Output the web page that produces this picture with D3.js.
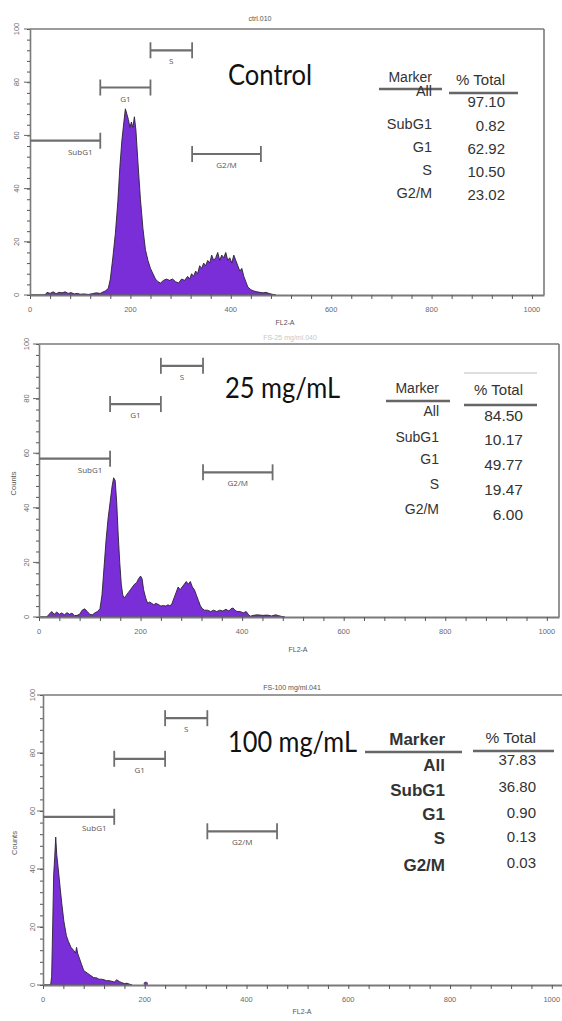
<!DOCTYPE html>
<html>
<head>
<meta charset="utf-8">
<script src="https://cdn.jsdelivr.net/npm/d3@7"></script>
<style>
  body { margin: 0; background: #fff; }
  svg { display: block; }
</style>
</head>
<body>
<svg id="chart" width="562" height="1021"></svg>
<script>
// histogram data, [FL2-A channel, counts]
var ctrlHist = [[0,0],[30,0],[34,1],[40,0.6],[46,1.2],[52,0.5],[58,1],[64,0.8],[70,1.2],[76,0.6],[82,0.9],[88,0.4],[94,0.6],[100,0.3],[108,0.4],[116,0.2],[124,0.5],[132,0.8],[140,0.6],[146,1.2],[150,1.5],[156,2.5],[160,6],[165,14],[170,23],[175,35],[179,48],[183,58],[187,65],[190,70],[193,68],[196,66],[199,63],[202,65],[205,63],[208,67],[211,62],[215,50],[220,36],[225,25],[230,17],[235,13],[240,10],[245,8],[250,6],[255,5],[260,4.5],[266,5.5],[272,6],[278,5.5],[284,6],[290,5],[296,4.5],[302,6],[308,5.5],[314,7],[318,6],[322,8],[326,7],[330,9],[334,8],[338,11],[342,10],[346,12],[350,11],[354,13],[358,12],[362,15],[366,13],[370,14],[374,16],[378,13],[382,15],[386,14],[390,16],[394,13],[398,14],[402,12],[406,15],[410,13],[414,11],[418,9],[422,10],[426,7],[430,5],[434,3],[440,2],[446,1.5],[452,1.2],[458,1],[464,0.8],[470,1],[476,0.6],[482,0.3],[490,0]];

var dose25Hist = [[0,0],[15,0],[20,1],[25,2],[30,1],[35,1.8],[40,1],[45,1.5],[50,0.8],[55,1.6],[60,1],[65,1.4],[70,0.5],[75,0.6],[80,1],[85,2.5],[90,3],[95,2],[100,1],[105,0.8],[110,1.5],[115,2],[120,3],[124,8],[128,18],[132,28],[136,36],[140,42],[144,48],[147,51],[150,50],[153,42],[156,30],[159,20],[162,12],[165,8],[168,7],[172,8],[176,9],[180,10],[184,11],[188,12],[192,12.5],[196,14],[200,15],[203,14],[206,10],[210,7],[214,5],[218,5.5],[222,5],[226,4.5],[230,5],[236,4.5],[240,4],[245,4.2],[250,4],[254,4.5],[258,4],[262,5],[266,7],[270,9],[274,11],[278,10],[282,11],[286,12],[290,13],[294,12],[298,13],[302,11],[306,10],[310,8],[314,6],[318,4],[322,3],[326,2.5],[332,2.5],[338,2],[344,2.5],[350,2],[356,2.5],[362,2.2],[368,2.8],[374,2.2],[378,3],[382,3.3],[386,2.5],[390,2],[396,2],[402,1.5],[408,2],[412,1],[416,0.3],[422,0.6],[430,0.8],[440,0.6],[450,0.7],[458,0.4],[466,0.8],[472,0.5],[478,0.2],[484,0]];

var dose100Hist = [[0,0],[15,0],[17,3],[19,20],[21,38],[23,44],[25,51],[27,45],[30,40],[34,33],[37,28],[41,22],[46,17],[50,15],[55,13],[60,12],[64,11],[66,13],[68,11],[72,9],[76,7],[80,5],[84,4.5],[88,4],[92,3.5],[96,3],[100,2.5],[105,2.5],[110,2],[115,2],[120,1.8],[125,1.5],[130,1.5],[135,1.3],[140,1],[145,1.8],[150,1.2],[155,0.8],[160,0.5],[165,0.6],[170,0.3],[175,0]];
var dose100Dots = [[202,0.4]];

// gate markers (channel ranges and the count level they sit at)
var markerNames = ["SubG1", "G1", "S", "G2/M"];
var markerStart = [0, 140, 240, 323];
var markerEnd = [140, 240, 323, 460];
var markerLevel = [58, 78, 92, 53];

// stats tables
var tableRows = ["All", "SubG1", "G1", "S", "G2/M"];
var ctrlPct = ["97.10", "0.82", "62.92", "10.50", "23.02"];
var dose25Pct = ["84.50", "10.17", "49.77", "19.47", "6.00"];
var dose100Pct = ["37.83", "36.80", "0.90", "0.13", "0.03"];

var xTickLabels = [0, 200, 400, 600, 800, 1000];
var yTickLabels = [0, 20, 40, 60, 80, 100];

var svg = d3.select("#chart");
var purple = "#7a2ed8";
var axisGrey = "#7a7a7a";

// layout per panel (pixel positions only)
var panels = [
  { hist: ctrlHist, dots: [], pct: ctrlPct, title: "Control", file: "ctrl.010",
    x0: 30, x1: 544, yb: 295, yt: 29, counts: false, fileX: 260, fileY: 21, fileColor: "#555",
    titleX: 228, titleY: 85, titleW: 84,
    mkX: 432, mkY: 82, mkSize: 14, mkLine: [379, 442, 89], pcX: 505, pcY: 85, pcSize: 15, pcLine: [449, 518, 93],
    rowLab: [96, 129, 152, 175, 198], rowVal: [107, 131, 154, 177, 200], labSize: 14.5, valSize: 15,
    xlabY: 325, xlabX: 285, tickLabX: 16 },
  { hist: dose25Hist, dots: [], pct: dose25Pct, title: "25 mg/mL", file: "FS-25 mg/ml.040",
    x0: 39, x1: 559, yb: 617, yt: 344, counts: true, countsX: 16, fileX: 290, fileY: 340, fileColor: "#c8c8c8",
    titleX: 225, titleY: 398, titleW: 115,
    mkX: 439, mkY: 393, mkSize: 14, mkLine: [386, 450, 401], pcX: 523, pcY: 395, pcSize: 15, pcLine: [464, 537, 405],
    faintLine: [464, 537, 373],
    rowLab: [416, 442, 464, 489, 514], rowVal: [421, 445, 470, 495, 520], labSize: 14, valSize: 15.5,
    xlabY: 652, xlabX: 298, tickLabX: 26 },
  { hist: dose100Hist, dots: dose100Dots, pct: dose100Pct, title: "100 mg/mL", file: "FS-100 mg/ml.041",
    x0: 43, x1: 564, yb: 985, yt: 695, counts: true, countsX: 17, fileX: 292, fileY: 690, fileColor: "#555",
    titleX: 228, titleY: 752, titleW: 129,
    mkX: 445, mkY: 745, mkSize: 17, mkLine: [365, 462, 752], pcX: 536, pcY: 743, pcSize: 15.5, pcLine: [473, 554, 751],
    rowLab: [771, 796, 820, 844, 871], rowVal: [765, 792, 818, 842, 868], labSize: 17, valSize: 15,
    labBold: true, xlabY: 1014, xlabX: 302, tickLabX: 32 }
];

panels.forEach(function (p) {
  var x = d3.scaleLinear().domain([0, 1024]).range([p.x0, p.x1]);
  var y = d3.scaleLinear().domain([0, 100]).range([p.yb, p.yt]);
  var g = svg.append("g");

  // frame: top and right
  g.append("line").attr("x1", x(0)).attr("x2", x(1024)).attr("y1", y(100)).attr("y2", y(100))
    .attr("stroke", axisGrey).attr("stroke-width", 1.6);
  g.append("line").attr("x1", x(1024)).attr("x2", x(1024)).attr("y1", y(100)).attr("y2", y(0))
    .attr("stroke", axisGrey).attr("stroke-width", 1.6);

  // histogram
  var area = d3.area().x(function (d) { return x(d[0]); })
    .y0(y(0)).y1(function (d) { return y(d[1]); });
  g.append("path").datum(p.hist).attr("d", area)
    .attr("fill", purple).attr("stroke", "#2a2230").attr("stroke-width", 0.9)
    .attr("stroke-linejoin", "round");
  g.selectAll(".dot").data(p.dots).enter().append("circle")
    .attr("cx", function (d) { return x(d[0]); }).attr("cy", function (d) { return y(d[1]); })
    .attr("r", 1.8).attr("fill", purple).attr("stroke", "#2a2230").attr("stroke-width", 0.6);

  // x axis
  var xAxis = d3.axisBottom(x).tickValues(d3.range(0, 1001, 40)).tickSize(4).tickSizeOuter(0).tickFormat("");
  var xa = g.append("g").attr("transform", "translate(0," + y(0) + ")").call(xAxis);
  xa.select(".domain").attr("stroke", axisGrey).attr("stroke-width", 1.8);
  xa.selectAll(".tick line").attr("stroke", "#555").attr("stroke-width", 1);
  g.selectAll(".xtl").data(xTickLabels).enter().append("text")
    .attr("x", function (d) { return x(d); }).attr("y", y(0) + 17)
    .attr("text-anchor", "middle").attr("font-family", "Liberation Sans, Arial, sans-serif")
    .attr("font-size", 7.5).attr("fill", "#6a6a6a").text(function (d) { return d; });
  g.append("text").attr("x", p.xlabX).attr("y", p.xlabY).attr("text-anchor", "middle")
    .attr("font-family", "Liberation Sans, Arial, sans-serif").attr("font-size", 7)
    .attr("fill", "#555").text("FL2-A");

  // y axis
  var yAxis = d3.axisLeft(y).tickValues(d3.range(0, 101, 4)).tickSize(3).tickSizeOuter(0).tickFormat("");
  var ya = g.append("g").attr("transform", "translate(" + x(0) + ",0)").call(yAxis);
  ya.select(".domain").attr("stroke", axisGrey).attr("stroke-width", 1.6);
  ya.selectAll(".tick line").attr("stroke", "#555").attr("stroke-width", 1);
  g.selectAll(".ytl").data(yTickLabels).enter().append("text")
    .attr("transform", function (d) { return "translate(" + (p.tickLabX) + "," + y(d) + ") rotate(-90)"; })
    .attr("dy", "0.35em").attr("text-anchor", "middle")
    .attr("font-family", "Liberation Sans, Arial, sans-serif").attr("font-size", 7.5)
    .attr("fill", "#6a6a6a").text(function (d) { return d; });
  // little tick marks next to the labels
  g.selectAll(".ytm").data(yTickLabels).enter().append("line")
    .attr("x1", x(0) - 6).attr("x2", x(0)).attr("y1", function (d) { return y(d); })
    .attr("y2", function (d) { return y(d); }).attr("stroke", "#666").attr("stroke-width", 1);
  if (p.counts) {
    g.append("text").attr("transform", "translate(" + p.countsX + "," + ((p.yb + p.yt) / 2 + 3) + ") rotate(-90)")
      .attr("text-anchor", "middle").attr("font-family", "Liberation Sans, Arial, sans-serif")
      .attr("font-size", 7.5).attr("fill", "#555").text("Counts");
  }

  // file name
  g.append("text").attr("x", p.fileX).attr("y", p.fileY).attr("text-anchor", "middle")
    .attr("font-family", "Liberation Sans, Arial, sans-serif").attr("font-size", 7)
    .attr("fill", p.fileColor).text(p.file);

  // gate markers
  markerNames.forEach(function (name, i) {
    var yy = y(markerLevel[i]);
    var xa0 = x(markerStart[i]), xa1 = x(markerEnd[i]);
    g.append("line").attr("x1", xa0).attr("x2", xa1).attr("y1", yy).attr("y2", yy)
      .attr("stroke", "#6e6e6e").attr("stroke-width", 2.2);
    if (markerStart[i] > 0) {
      g.append("line").attr("x1", xa0).attr("x2", xa0).attr("y1", yy - 8).attr("y2", yy + 8)
        .attr("stroke", "#6e6e6e").attr("stroke-width", 1.8);
    }
    g.append("line").attr("x1", xa1).attr("x2", xa1).attr("y1", yy - 8).attr("y2", yy + 8)
      .attr("stroke", "#6e6e6e").attr("stroke-width", 1.8);
    var lx = i === 0 ? xa1 - 20 : (xa0 + xa1) / 2;
    g.append("text").attr("x", lx).attr("y", yy + 14).attr("text-anchor", "middle")
      .attr("font-family", "Open Sans, sans-serif").attr("font-size", 8)
      .attr("fill", "#555").text(name);
  });

  // condition label
  g.append("text").attr("x", p.titleX).attr("y", p.titleY)
    .attr("font-family", "Lato, sans-serif").attr("font-size", 28)
    .attr("textLength", p.titleW).attr("lengthAdjust", "spacingAndGlyphs")
    .attr("fill", "#111").text(p.title);

  // stats table
  var tf = "Liberation Sans, Arial, sans-serif";
  g.append("text").attr("x", p.mkX).attr("y", p.mkY).attr("text-anchor", "end")
    .attr("font-family", tf).attr("font-size", p.mkSize)
    .attr("font-weight", p.labBold ? "bold" : "normal").attr("fill", "#333").text("Marker");
  g.append("text").attr("x", p.pcX).attr("y", p.pcY).attr("text-anchor", "end")
    .attr("font-family", tf).attr("font-size", p.pcSize).attr("fill", "#333").text("% Total");
  [p.mkLine, p.pcLine].forEach(function (l) {
    g.append("line").attr("x1", l[0]).attr("x2", l[1]).attr("y1", l[2]).attr("y2", l[2])
      .attr("stroke", "#666").attr("stroke-width", 2.6);
  });
  if (p.faintLine) {
    g.append("line").attr("x1", p.faintLine[0]).attr("x2", p.faintLine[1])
      .attr("y1", p.faintLine[2]).attr("y2", p.faintLine[2])
      .attr("stroke", "#dedede").attr("stroke-width", 2);
  }
  g.selectAll(".rl").data(tableRows).enter().append("text")
    .attr("x", p.mkX).attr("y", function (d, i) { return p.rowLab[i]; })
    .attr("text-anchor", "end").attr("font-family", tf).attr("font-size", p.labSize)
    .attr("font-weight", p.labBold ? "bold" : "normal").attr("fill", "#333")
    .text(function (d) { return d; });
  g.selectAll(".rv").data(p.pct).enter().append("text")
    .attr("x", p.pcX).attr("y", function (d, i) { return p.rowVal[i]; })
    .attr("text-anchor", "end").attr("font-family", tf).attr("font-size", p.valSize)
    .attr("fill", "#333").text(function (d) { return d; });
});
</script>
</body>
</html>
